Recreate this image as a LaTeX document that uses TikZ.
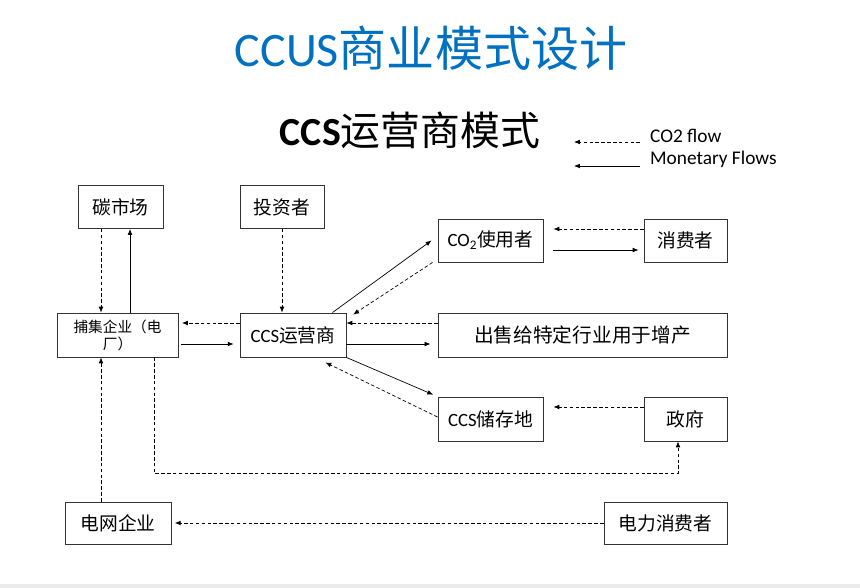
\documentclass[tikz,border=0pt]{standalone}
\usepackage{fontspec}
\setmainfont{Carlito}
\newfontfamily\cjk{Noto Sans CJK SC}
\usetikzlibrary{arrows.meta}

\newcommand{\zh}[1]{{\cjk #1}}
\definecolor{titleblue}{RGB}{0,112,192}

\begin{document}
\begin{tikzpicture}[x=0.03cm, y=-0.03cm,
    box/.style={draw=black!80, line width=0.8pt, inner sep=0pt, minimum height=1.29cm, font=\fontsize{16}{19}\selectfont},
    money/.style={line width=0.6pt, -{Latex[length=5pt,width=4pt]}},
    co2flow/.style={money, dash pattern=on 3pt off 2pt}]
    \useasboundingbox (0,0) rectangle (860,588);
    \fill[black!8] (0,584) rectangle (860,588);
    % titles
    \node[text=titleblue, font=\fontsize{41}{49}\selectfont] (title) at (431,48) {CCUS\zh{商业模式设计}};
    \node[font=\fontsize{34}{40}\selectfont] (subtitle) at (410,130) {\textbf{CCS}\zh{运营商模式}};
    % legend
    \node[anchor=west, font=\fontsize{16.5}{19}\selectfont] (legco2)   at (646,136) {CO2 flow};
    \node[anchor=west, font=\fontsize{16.5}{19}\selectfont] (legmoney) at (646,159) {Monetary Flows};
    \coordinate (legco2a)   at (640,142);
    \coordinate (legco2b)   at (574,142);
    \coordinate (legmoneya) at (640,166);
    \coordinate (legmoneyb) at (574,166);
    \draw[co2flow] (legco2a)   -- (legco2b);
    \draw[money  ] (legmoneya) -- (legmoneyb);
    % boxes
    \node[box, minimum width=2.55cm] (market)   at (120.5,207) {\zh{碳市场}};
    \node[box, minimum width=2.52cm] (investor) at (282,207)   {\zh{投资者}};
    \node[box, minimum width=3.63cm, minimum height=1.32cm, align=center,
          font=\fontsize{12.5}{14.5}\selectfont] (capture) at (117.5,335) {\zh{捕集企业（电}\\\zh{厂）}};
    \node[box, minimum width=3.18cm, minimum height=1.32cm] (operator) at (293,335) {CCS\zh{运营商}};
    \node[box, minimum width=3.15cm] (user)     at (490.5,240.5) {CO\textsubscript{2}\zh{使用者}};
    \node[box, minimum width=2.49cm] (consumer) at (685.5,240.5) {\zh{消费者}};
    \node[box, minimum width=8.67cm, minimum height=1.32cm,
          font=\fontsize{16.8}{20}\selectfont] (industry) at (582.5,335) {\zh{出售给特定行业用于增产}};
    \node[box, minimum width=3.15cm, minimum height=1.32cm] (storage) at (490.5,419) {CCS\zh{储存地}};
    \node[box, minimum width=2.49cm, minimum height=1.32cm] (gov)     at (685.5,419) {\zh{政府}};
    \node[box, minimum width=3.18cm, minimum height=1.26cm] (grid)    at (118,523)   {\zh{电网企业}};
    \node[box, minimum width=3.69cm, minimum height=1.26cm] (power)   at (665.5,523) {\zh{电力消费者}};
    % carbon market and investor
    \draw[co2flow] ([xshift=-0.585cm]market.south) -- ([xshift=-0.585cm]market.south |- capture.north);
    \draw[money  ] ([xshift=0.285cm]market.south |- capture.north) -- ([xshift=0.285cm]market.south);
    \draw[co2flow] (investor.south) -- (investor.south |- operator.north);
    % capture <-> operator
    \draw[co2flow] ([yshift=0.36cm]operator.west) -- ([yshift=0.36cm,xshift=3pt]capture.east);
    \draw[money, shorten <=2pt, shorten >=5pt] ([yshift=-0.27cm]capture.east) -- ([yshift=-0.27cm]operator.west);
    % operator <-> users
    \draw[money  ] ([xshift=-0.42cm]operator.north east) -- ([xshift=-0.18cm]user.west);
    \draw[co2flow] ([xshift=-0.15cm]user.south west) -- ([xshift=0.2cm,yshift=-0.06cm]operator.north east);
    \draw[co2flow] ([yshift=0.36cm]industry.west) -- ([yshift=0.36cm]operator.east);
    \draw[money, shorten >=6pt] ([yshift=-0.27cm]operator.east) -- ([yshift=-0.27cm]industry.west);
    \draw[money, shorten >=4pt] (operator.south east) -- (storage.north west);
    \draw[co2flow] ([yshift=0.06cm]storage.west) -- ([xshift=-0.63cm,yshift=-0.15cm]operator.south east);
    % consumers and government
    \draw[co2flow] ([yshift=0.345cm]consumer.west) -- ([yshift=0.345cm,xshift=0.3cm]user.east);
    \draw[money  ] ([yshift=-0.285cm,xshift=0.3cm]user.east) -- ([yshift=-0.285cm,xshift=-0.15cm]consumer.west);
    \draw[co2flow] ([yshift=0.36cm]gov.west) -- ([yshift=0.36cm,xshift=0.3cm]storage.east);
    \draw[co2flow] ([xshift=1.1cm]capture.south) -- ++(0,116) -| ([xshift=-0.225cm]gov.south);
    % grid
    \draw[co2flow] ([xshift=-0.51cm]grid.north) -- ([xshift=-0.51cm]grid.north |- capture.south);
    \draw[co2flow] (power.west) -- ([xshift=0.1cm]grid.east);
\end{tikzpicture}
\end{document}
